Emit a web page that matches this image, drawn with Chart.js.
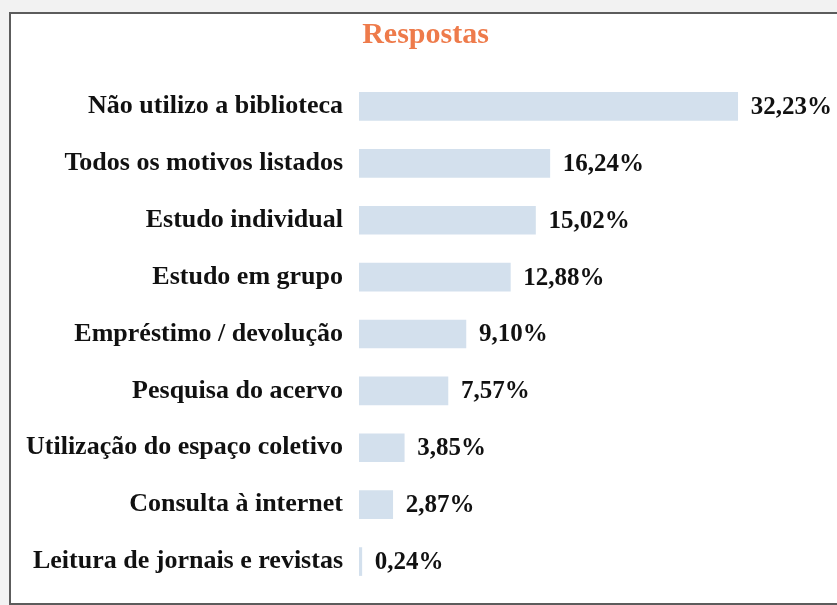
<!DOCTYPE html>
<html lang="pt">
<head>
<meta charset="utf-8">
<title>Respostas</title>
<script src="https://cdn.jsdelivr.net/npm/chart.js@4.4.1/dist/chart.umd.min.js"></script>
<style>
  html, body { margin: 0; padding: 0; }
  body { width: 837px; height: 605px; background: #f2f2f2; position: relative; overflow: hidden; }
  .frame {
    position: absolute; left: 9px; top: 12px; width: 840px; height: 589px;
    background: #fff; border: 2px solid #5c5c5c;
  }
  #chart { position: absolute; left: 0; top: 0; }
</style>
</head>
<body>
<div class="frame"></div>
<canvas id="chart" width="837" height="605"></canvas>
<script>
// motivos de uso da biblioteca (% das respostas)
const motivos = [
  "Não utilizo a biblioteca",
  "Todos os motivos listados",
  "Estudo individual",
  "Estudo em grupo",
  "Empréstimo / devolução",
  "Pesquisa do acervo",
  "Utilização do espaço coletivo",
  "Consulta à internet",
  "Leitura de jornais e revistas"
];
const percentuais = [32.23, 16.24, 15.02, 12.88, 9.10, 7.57, 3.85, 2.87, 0.24];

const serif = "'Liberation Serif', 'Times New Roman', serif";

// escreve o valor logo depois do fim de cada barra
const rotulos = {
  id: "rotulos",
  afterDatasetsDraw(chart) {
    const ctx = chart.ctx;
    const meta = chart.getDatasetMeta(0);
    ctx.save();
    ctx.font = "bold 25px " + serif;
    ctx.fillStyle = "#111";
    ctx.textAlign = "left";
    ctx.textBaseline = "middle";
    meta.data.forEach((bar, i) => {
      const txt = percentuais[i].toFixed(2).replace(".", ",") + "%";
      ctx.fillText(txt, bar.x + 13, bar.y + 1);
    });
    ctx.restore();
  }
};

new Chart("chart", {
  type: "bar",
  data: {
    labels: motivos,
    datasets: [{
      data: percentuais,
      backgroundColor: "#d3e0ed",
      borderWidth: 0,
      barThickness: 28
    }]
  },
  options: {
    indexAxis: "y",
    responsive: false,
    animation: false,
    layout: { padding: { left: 22, right: 8, top: 0, bottom: 15 } },
    plugins: {
      legend: { display: false },
      tooltip: { enabled: false },
      title: {
        display: true,
        text: "Respostas",
        color: "#ee7b4b",
        font: { family: serif, size: 30, weight: "bold" },
        padding: { top: 17, bottom: 25 }
      }
    },
    scales: {
      x: { display: false, min: 0, max: 40 },
      y: {
        grid: { display: false },
        border: { display: false },
        ticks: {
          color: "#111",
          padding: 8,
          font: { family: serif, size: 26, weight: "bold" }
        },
        afterFit(scale) {
          scale.width = 337;
          scale.paddingTop = 0;
          scale.paddingBottom = 0;
        }
      }
    }
  },
  plugins: [rotulos]
});
</script>
</body>
</html>
